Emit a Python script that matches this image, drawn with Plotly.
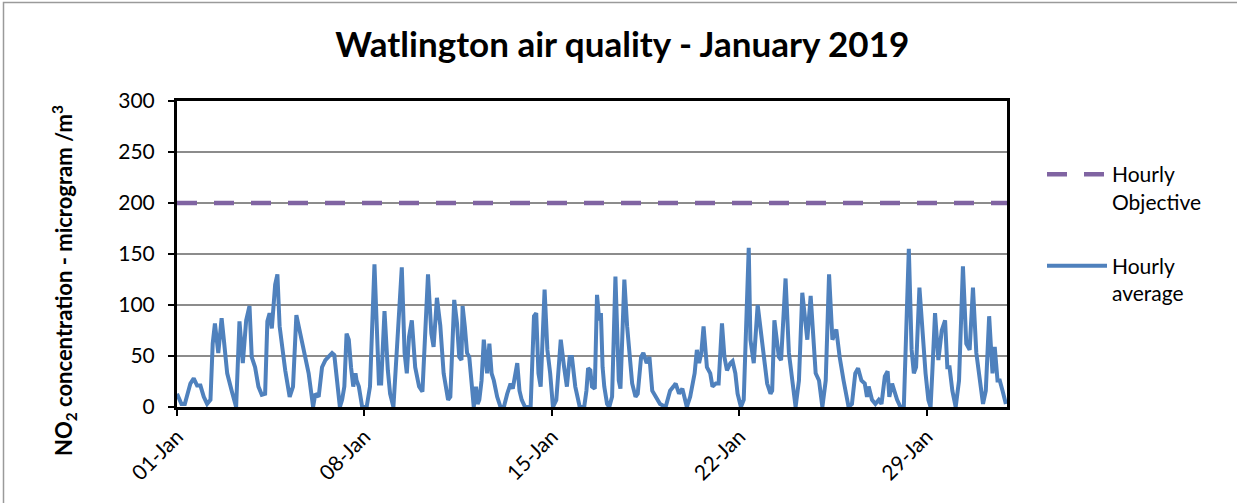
import pandas as pd
import plotly.graph_objects as go

# Hourly NO2 readings (hours since 2019-01-01 00:00, value in microgram/m3)
hours = [0, 4, 7, 12, 15, 18, 21, 24, 27, 30, 32, 34, 37, 40, 42, 45, 49, 53, 56, 59,
         62, 65, 67, 70, 73, 76, 79, 81, 83, 85, 88, 90, 92, 97, 101, 104, 107, 112, 118,
         122, 124, 127, 130, 133, 136, 139, 141, 143, 145, 146, 148, 150, 152, 154, 156,
         158, 160, 161, 163, 166, 170, 173, 177, 178.5, 181, 183, 186, 189, 191, 194, 198,
         201.5, 204, 206, 208, 210.5, 213.5, 217, 220, 225, 228, 230, 233, 236,
         239, 241, 243, 245, 247, 248.5, 251, 253, 255, 256, 258, 260, 262, 264, 266, 268,
         269.5, 271, 273, 275, 278, 280, 282, 284, 287, 290, 293, 296, 299, 301, 305, 307,
         309, 312, 317, 320, 322, 324, 326, 329.5, 332, 334.5, 337, 340, 344, 347, 349.5,
         352, 354, 357,
         361, 365, 367, 368.5, 370.5, 372, 374.5, 376.5, 378.5, 380, 381.5, 383, 385.5,
         387.5, 390, 393, 396, 397.5, 401, 403.5, 405.5, 408, 411, 413, 416, 418, 421,
         423.5, 426, 429, 433, 438, 442, 445, 447, 450, 453, 457, 460, 464, 466, 468, 470,
         472, 475, 478, 480, 483,
         485.5, 488.5, 490.7, 493, 496, 498, 500.5, 502.5, 505.5, 508, 512.5, 514, 517,
         520.5, 523, 526, 529, 532, 533.5, 535.5, 539.5, 541.5, 545.5, 548.5, 551.5, 554.5,
         557.5, 560.5, 565, 568, 572.5, 575.5, 578.5, 581.5, 584.5, 587.5, 591, 594, 597.5,
         602,
         605, 608, 610.5, 613.5, 616.5, 618.5, 620, 623, 626, 629, 631.5, 634.5, 637, 638.5,
         641, 645.5, 648.5, 651.5, 656, 658.5, 660.5, 662.5, 665.5, 668.5, 671, 673.5, 675.5,
         677, 679.5, 682.5, 685.5, 688.5, 690.5, 692.5, 695, 698, 701, 704.5, 707.5, 710.5,
         713.5, 716.5, 720.5, 722.5, 725, 728, 731, 733, 735.5, 737.5, 740, 743]
no2 = [13, 3, 3, 23, 28, 21, 21, 10, 3, 7, 62, 82, 53, 87, 66, 33, 16, 0, 84, 43,
       85, 99, 49, 39, 20, 12, 13, 84, 92, 77, 120, 130, 79, 36, 10, 20, 90, 66, 33,
       0, 13, 10, 39, 46, 49, 53, 51, 33, 16, 0, 7, 20, 72, 66, 39,
       20, 33, 26, 20, 0, 0, 20, 140, 99, 23, 23, 94, 36, 13, 0, 66,
       137, 53, 33, 69, 85, 39, 20, 15, 130, 72, 59, 107, 80,
       33, 20, 7, 10, 72, 105, 82, 49, 46, 99, 79, 53, 49, 26, 0, 20,
       3, 7, 26, 66, 33, 62, 33, 26, 10, 0, 0, 13, 23, 18, 43, 16,
       7, 0, 0, 89, 92, 33, 20, 115, 56, 33, 0, 7, 66, 39, 20,
       49, 49, 20,
       0, 0, 16, 38, 36, 20, 18, 110, 85, 92, 39, 20, 3,
       0, 10, 128, 26, 18, 125, 79, 49, 23, 10, 13, 49, 53, 43,
       49, 16, 10, 3, 0, 16, 20, 23, 13, 18, 0, 10, 33, 56, 43, 53,
       79, 39, 33, 20, 23,
       23, 82, 49, 36, 43, 45, 33, 13, 0, 7, 156, 66, 43,
       100, 76, 49, 23, 13, 16, 85, 49, 46, 126, 53, 26, 0,
       26, 112, 66, 109, 33, 26, 0, 26, 130, 66, 76, 49, 26,
       0,
       3, 33, 38, 26, 23, 10, 20, 7, 3, 7, 3, 30, 35, 10,
       23, 7, 0, 0, 155, 56, 33, 39, 117, 66, 33, 7, 0,
       33, 92, 46, 75, 85, 39, 39, 16, 0, 26, 138, 62, 56,
       117, 53, 23, 3, 16, 89, 33, 59, 26, 26, 16, 3]

objective_hours = [0, 744]
objective_values = [200, 200]

tick_dates = ["2019-01-01", "2019-01-08", "2019-01-15", "2019-01-22", "2019-01-29"]
tick_labels = ["01-Jan", "08-Jan", "15-Jan", "22-Jan", "29-Jan"]

start = pd.Timestamp("2019-01-01")
times = start + pd.to_timedelta(hours, unit="h")
obj_times = start + pd.to_timedelta(objective_hours, unit="h")

FONT = "Lato, 'Open Sans', sans-serif"

fig = go.Figure()
fig.add_trace(go.Scatter(
    x=obj_times, y=objective_values, mode="lines",
    name="Hourly<br>Objective", legendgroup="a",
    line=dict(color="#8064A2", width=4.5, dash="20px,17px"),
))
fig.add_trace(go.Scatter(
    x=times, y=no2, mode="lines",
    name="Hourly<br>average", legendgroup="b",
    line=dict(color="#4F81BD", width=4),
))

W, H = 1237, 503
L, R, T, B = 177, 230, 101, 96
pw, ph = W - L - R, H - T - B

def px_x(p):
    return (p - L) / pw

def px_y(p):
    return (H - B - p) / ph

fig.update_layout(
    width=W, height=H,
    margin=dict(l=L, r=R, t=T, b=B),
    paper_bgcolor="white", plot_bgcolor="white",
    font=dict(family=FONT, color="black", size=20),
    title=dict(text="<b>Watlington air quality - January 2019</b>",
               x=0.503, xanchor="center", y=1 - 45 / H, yanchor="middle",
               font=dict(size=35, family=FONT, color="black")),
    showlegend=True,
    legend=dict(x=px_x(1042), y=px_y(154), xanchor="left", yanchor="top",
                font=dict(size=21, family=FONT), itemwidth=60,
                tracegroupgap=34, valign="top", bgcolor="rgba(0,0,0,0)"),
    xaxis=dict(type="date", range=["2019-01-01 00:00", "2019-02-01 00:00"],
               tickvals=tick_dates, ticktext=tick_labels, tickangle=-45,
               ticks="outside", ticklen=6, tickwidth=2, tickcolor="black",
               showline=True, linewidth=3, linecolor="black", mirror=True,
               showgrid=False, zeroline=False,
               tickfont=dict(size=21, family=FONT, color="black")),
    yaxis=dict(range=[0, 300], dtick=50, tick0=0,
               ticks="outside", ticklen=6, tickwidth=2, tickcolor="black",
               ticklabelstandoff=9,
               showline=True, linewidth=3, linecolor="black", mirror=True,
               showgrid=True, gridcolor="#8c8c8c", gridwidth=1.5, zeroline=False,
               tickfont=dict(size=21, family=FONT, color="black")),
    annotations=[dict(text="<b>NO<sub>2</sub> concentration - microgram /m<sup>3</sup></b>",
                      xref="paper", yref="paper", x=px_x(64), y=px_y(280),
                      xanchor="center", yanchor="middle", textangle=-90,
                      showarrow=False,
                      font=dict(size=22, family=FONT, color="black"))],
    shapes=[dict(type="rect", xref="paper", yref="paper",
                 x0=px_x(3.5), x1=px_x(1260), y0=px_y(530), y1=px_y(2.5),
                 line=dict(color="#9a9a9a", width=1.5), fillcolor="rgba(0,0,0,0)",
                 layer="below")],
)

fig.write_html("out.html", config={"displayModeBar": False},
               post_script="document.body.style.margin='0px';")
